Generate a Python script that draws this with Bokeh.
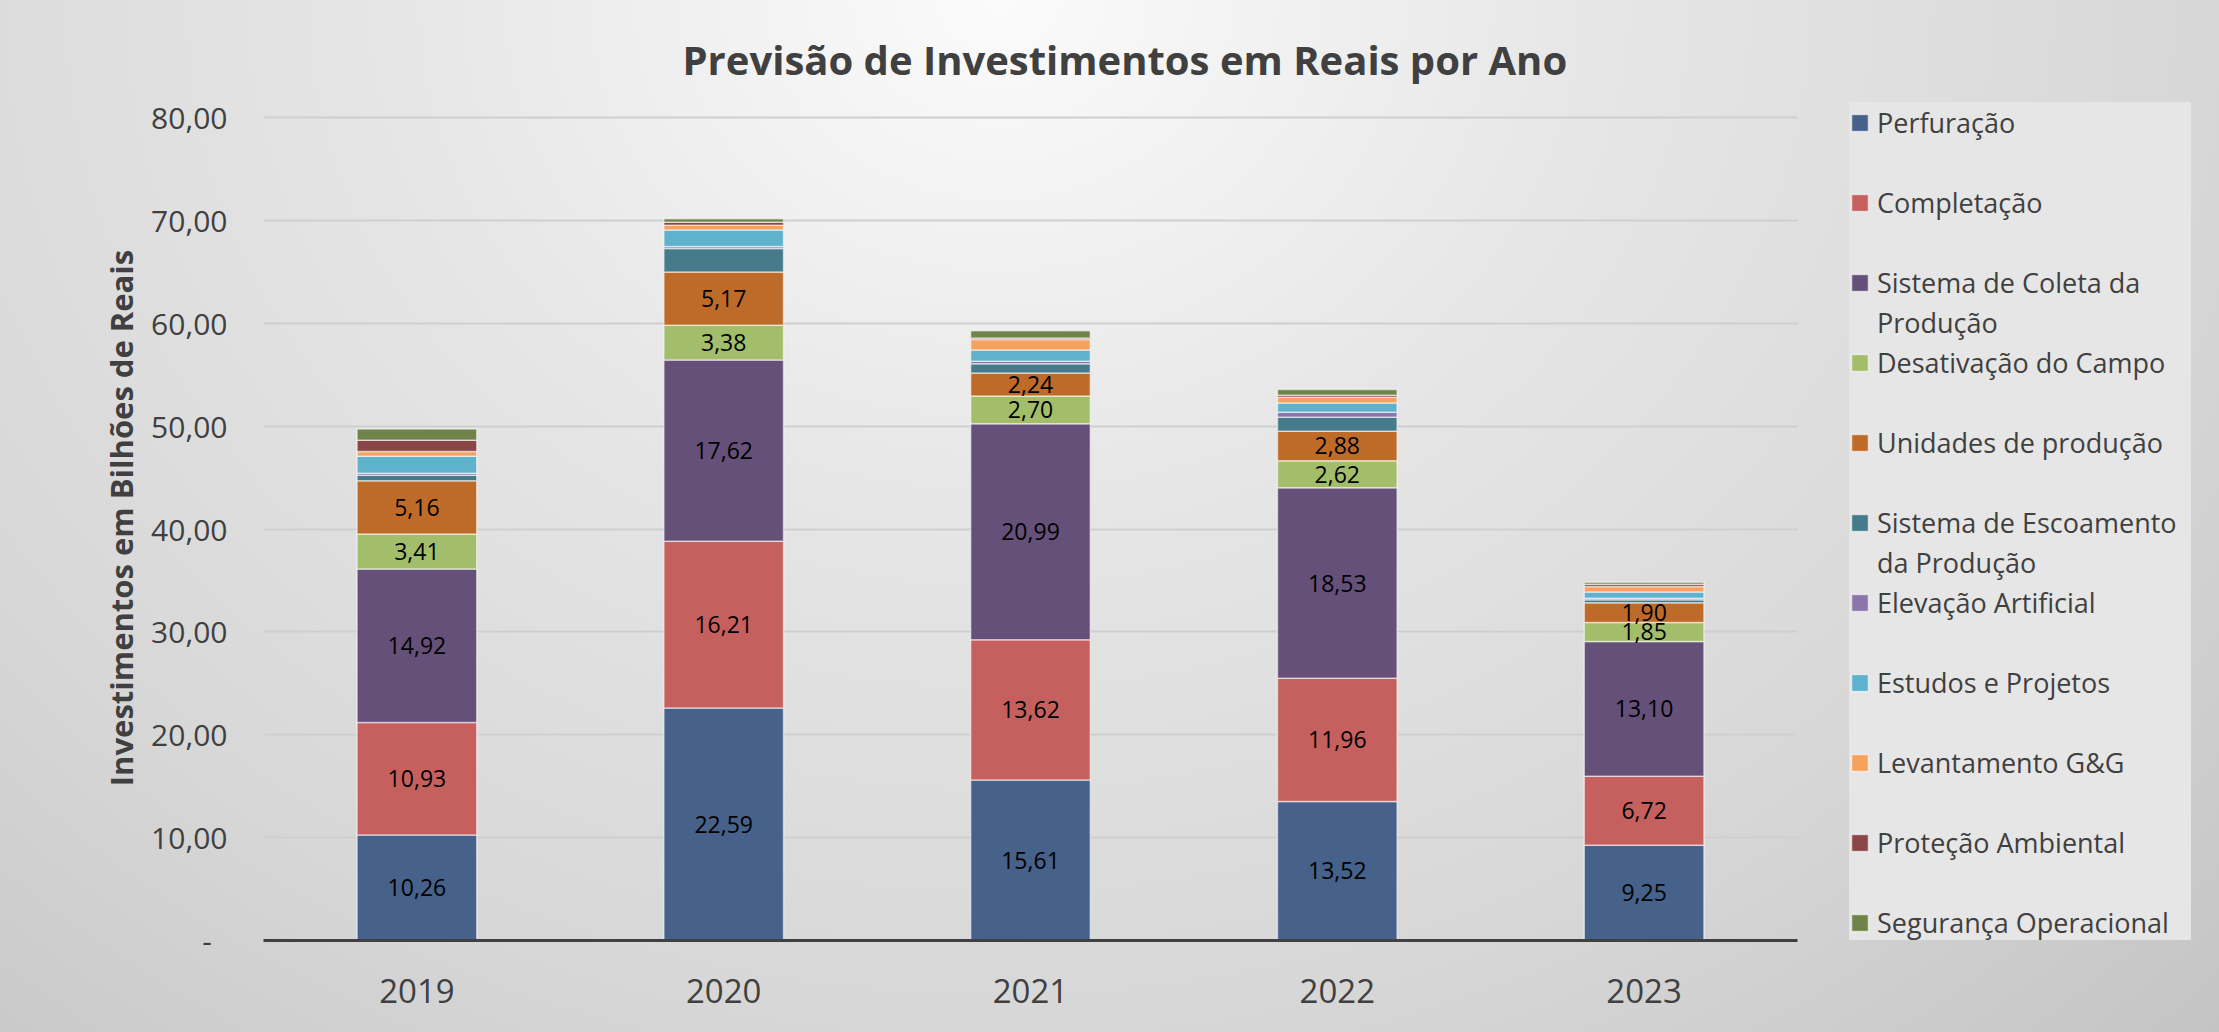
from bokeh.plotting import figure
from bokeh.models import ColumnDataSource, Range1d, FixedTicker, Legend, LegendItem
from bokeh.embed import file_html
from bokeh.resources import INLINE
from bokeh.core.properties import value

# ---------------- data ----------------
years = ["2019", "2020", "2021", "2022", "2023"]

perfuracao = [10.26, 22.59, 15.61, 13.52, 9.25]
completacao = [10.93, 16.21, 13.62, 11.96, 6.72]
coleta = [14.92, 17.62, 20.99, 18.53, 13.10]
desativacao = [3.41, 3.38, 2.70, 2.62, 1.85]
unidades = [5.16, 5.17, 2.24, 2.88, 1.90]
escoamento = [0.55, 2.30, 0.90, 1.35, 0.30]
elevacao = [0.20, 0.20, 0.25, 0.50, 0.15]
estudos = [1.65, 1.60, 1.10, 0.90, 0.60]
levantamento = [0.45, 0.45, 1.00, 0.55, 0.55]
protecao = [1.10, 0.30, 0.15, 0.20, 0.20]
seguranca = [1.10, 0.35, 0.70, 0.55, 0.20]

series_names = [
    "Perfuração", "Completação", "Sistema de Coleta da\nProdução",
    "Desativação do Campo", "Unidades de produção",
    "Sistema de Escoamento\nda Produção", "Elevação Artificial",
    "Estudos e Projetos", "Levantamento G&G", "Proteção Ambiental",
    "Segurança Operacional",
]
series_values = [perfuracao, completacao, coleta, desativacao, unidades,
                 escoamento, elevacao, estudos, levantamento, protecao, seguranca]
labelled_series = 5  # first five series carry value labels

y_ticks = [0, 10, 20, 30, 40, 50, 60, 70, 80]
y_tick_labels = ["-\u00a0\u00a0", "10,00", "20,00", "30,00", "40,00", "50,00", "60,00", "70,00", "80,00"]

colors = ["#46618A", "#C6605E", "#65507A", "#A2BE6A", "#BE6B2A",
          "#457B8A", "#8C74AC", "#5FB2CB", "#F6A25F", "#8A4546", "#6F834A"]

title_text = "Previsão de Investimentos em Reais por Ano"
y_title = "Investimentos em Bilhões de Reais"

# ---------------- layout ----------------
W, H = 2219, 1032
FL, FT, FB, FR = 263, 95, 940, 2209      # frame edges (canvas px)
Y80 = 117                                # canvas y of the 80 gridline
CAT_PX = 306.8                           # pixels per category slot
TXT = "#404040"
FONT = "Open Sans"

xpos = list(range(len(years)))
x_end = -0.5 + (FR - FL) / CAT_PX
y_end = 80 + (Y80 - FT) / ((FB - Y80) / 80)

p = figure(x_range=Range1d(-0.5, x_end), y_range=Range1d(0, y_end),
           width=W, height=H, output_backend="svg", toolbar_location=None,
           min_border_left=FL, min_border_right=W - FR,
           min_border_top=FT, min_border_bottom=H - FB)

# transparent canvas, gradient painted by CSS behind it
p.background_fill_alpha = 0
p.border_fill_alpha = 0
p.outline_line_color = None
p.styles = {"background": "radial-gradient(farthest-corner at 45% 0%, #fbfbfb 0%, #e6e6e6 35%, #d7d7d7 70%, #c4c4c4 100%)"}

# title
p.title.text = title_text
p.title.align = "left"
p.title.offset = 419
p.title.standoff = 17
p.title.text_font = FONT
p.title.text_font_size = "40px"
p.title.text_font_style = "bold"
p.title.text_color = TXT

# stacked bars
keys = [f"s{i}" for i in range(len(series_values))]
src = ColumnDataSource(dict(x=xpos, years=years, **{k: v for k, v in zip(keys, series_values)}))
bars = p.vbar_stack(keys, x="x", width=0.39, source=src, fill_color=colors,
                    line_color="white", line_alpha=0.55, line_width=1.5)

# value labels
lx, ly, lt = [], [], []
base = [0.0] * len(years)
for si, vals in enumerate(series_values):
    for i, v in enumerate(vals):
        if si < labelled_series:
            lx.append(xpos[i])
            ly.append(base[i] + v / 2)
            lt.append(f"{v:.2f}".replace(".", ","))
        base[i] += v
p.text(x="x", y="y", text="t", source=ColumnDataSource(dict(x=lx, y=ly, t=lt)),
       text_align="center", text_baseline="middle", text_font=value(FONT),
       text_font_size="23px", text_color="black")

# axes
p.xaxis.ticker = FixedTicker(ticks=xpos)
p.xaxis.major_label_overrides = {i: y for i, y in zip(xpos, years)}
p.xaxis.bounds = (-0.5, len(years) - 0.5)
p.xaxis.axis_line_color = TXT
p.xaxis.axis_line_width = 3
p.xaxis.major_tick_line_color = None
p.xaxis.minor_tick_line_color = None
p.xaxis.major_label_standoff = 32
p.xaxis.major_label_text_font = FONT
p.xaxis.major_label_text_font_size = "33px"
p.xaxis.major_label_text_color = TXT

p.yaxis.ticker = FixedTicker(ticks=y_ticks)
p.yaxis.major_label_overrides = {t: s for t, s in zip(y_ticks, y_tick_labels)}
p.yaxis.axis_line_color = None
p.yaxis.major_tick_line_color = None
p.yaxis.minor_tick_line_color = None
p.yaxis.major_label_standoff = 30
p.yaxis.major_label_text_font = FONT
p.yaxis.major_label_text_font_size = "30px"
p.yaxis.major_label_text_color = TXT
p.yaxis.axis_label = y_title
p.yaxis.axis_label_standoff = 6
p.yaxis.axis_label_text_font = FONT
p.yaxis.axis_label_text_font_size = "31px"
p.yaxis.axis_label_text_font_style = "bold"
p.yaxis.axis_label_text_color = TXT

p.xgrid.grid_line_color = None
p.ygrid.grid_line_color = "#cfcfcf"
p.ygrid.grid_line_width = 2
for g in p.ygrid:
    if "cross_bounds" in g.properties():
        g.cross_bounds = (-0.5, len(years) - 0.5)

# ---------------- legend ----------------
# rows on a uniform grid: each entry takes two rows (second row = wrapped text or spacer)
blank = p.scatter(x=[], y=[], marker="square", fill_alpha=0, line_alpha=0)
items = []
for name, r in zip(series_names, bars):
    lines = name.split("\n")
    items.append(LegendItem(label=lines[0], renderers=[r]))
    items.append(LegendItem(label=lines[1] if len(lines) > 1 else "\u00a0", renderers=[blank]))

legend = Legend(items=items, location=(1849 - FL, -42), orientation="vertical", ncols=1,
                spacing=0, padding=0, margin=0,
                glyph_width=21, glyph_height=21, label_height=40, label_width=314,
                label_standoff=7, label_text_font=FONT, label_text_font_size="27px",
                label_text_color=TXT, label_text_baseline="middle",
                background_fill_color="#e6e6e6", background_fill_alpha=1.0,
                border_line_color=None)
p.add_layout(legend)

open("out.html", "w").write(file_html(p, INLINE))
